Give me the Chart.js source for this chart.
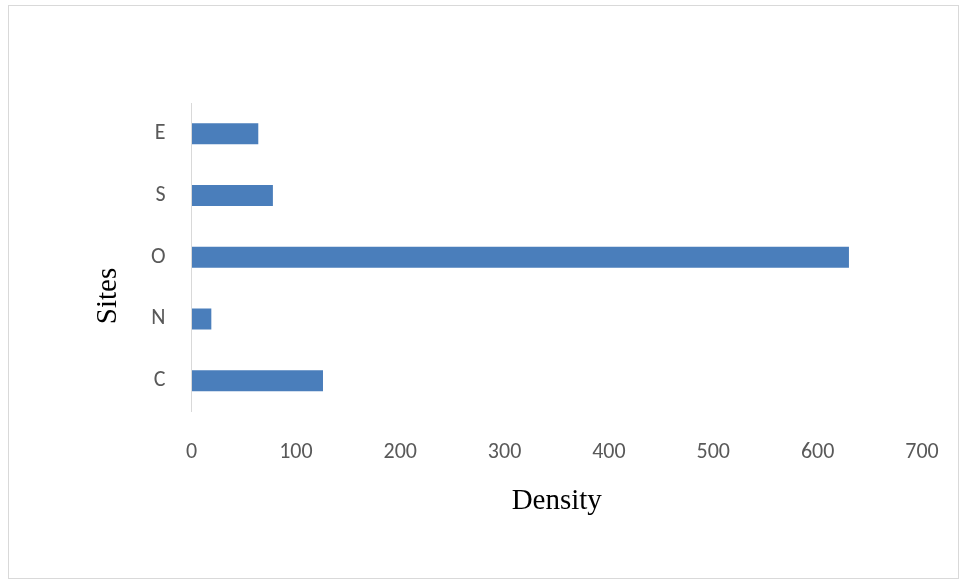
<!DOCTYPE html>
<html>
<head>
<meta charset="utf-8">
<script src="https://cdn.jsdelivr.net/npm/chart.js@4"></script>
<style>
    html, body { margin: 0; padding: 0; background: #ffffff; }
    #wrap { position: relative; width: 961px; height: 583px; }
    #frame {
        position: absolute; left: 8px; top: 5px; width: 949px; height: 572px;
        border: 1px solid #d9d9d9; pointer-events: none;
    }
    #grafico { position: absolute; left: 0; top: 0; }
</style>
</head>
<body>
<div id="wrap">
    <canvas id="grafico" width="961" height="583"></canvas>
    <div id="frame"></div>
</div>
<script>
// datos
const sitios = ["E", "S", "O", "N", "C"];
const densidad = [64, 78, 630, 19, 126];
const ticksX = [0, 100, 200, 300, 400, 500, 600, 700];

const fuenteEje = 'Carlito, Lato, sans-serif';
const fuenteTitulo = '"Liberation Serif", "DejaVu Serif", serif';

// titulo vertical "Sites" (va un poco mas abajo del centro del eje)
const tituloSites = {
    id: "tituloSites",
    afterDraw(chart) {
        const ctx = chart.ctx;
        ctx.save();
        ctx.translate(108, 296);
        ctx.rotate(-Math.PI / 2);
        ctx.font = "29px " + fuenteTitulo;
        ctx.fillStyle = "#000000";
        ctx.textAlign = "center";
        ctx.textBaseline = "middle";
        ctx.fillText("Sites", 0, 0);
        ctx.restore();
    }
};

document.addEventListener("DOMContentLoaded", function () {
    const ctx = document.getElementById("grafico").getContext("2d");
    new Chart(ctx, {
        type: "bar",
        data: {
            labels: sitios,
            datasets: [{
                label: "Density",
                data: densidad,
                backgroundColor: "#4a7ebb",
                barPercentage: 0.34,
                categoryPercentage: 1
            }]
        },
        options: {
            indexAxis: "y",
            responsive: false,
            animation: false,
            layout: { padding: { top: 103, right: 39, left: 0, bottom: 0 } },
            plugins: {
                legend: { display: false },
                tooltip: { enabled: false }
            },
            scales: {
                x: {
                    min: 0,
                    max: 700,
                    afterBuildTicks: function (scale) {
                        scale.ticks = ticksX.map(v => ({ value: v }));
                    },
                    afterFit: function (scale) { scale.height = 171.5; },
                    // marcas invisibles: solo sirven para bajar las etiquetas
                    grid: { display: true, drawOnChartArea: false, drawTicks: true, tickLength: 28, color: "rgba(0,0,0,0)" },
                    border: { display: false },
                    ticks: {
                        padding: 0,
                        color: "#595959",
                        font: { family: fuenteEje, size: 22 }
                    },
                    title: {
                        display: true,
                        text: "Density",
                        color: "#000000",
                        font: { family: fuenteTitulo, size: 29 },
                        padding: { top: 0, bottom: 64 }
                    }
                },
                y: {
                    afterFit: function (scale) { scale.width = 191.5; },
                    grid: { display: false, drawTicks: false },
                    border: { display: true, color: "#d9d9d9", width: 1 },
                    ticks: {
                        padding: 26,
                        color: "#595959",
                        font: { family: fuenteEje, size: 22 }
                    }
                }
            }
        },
        plugins: [tituloSites]
    });
});
</script>
</body>
</html>
